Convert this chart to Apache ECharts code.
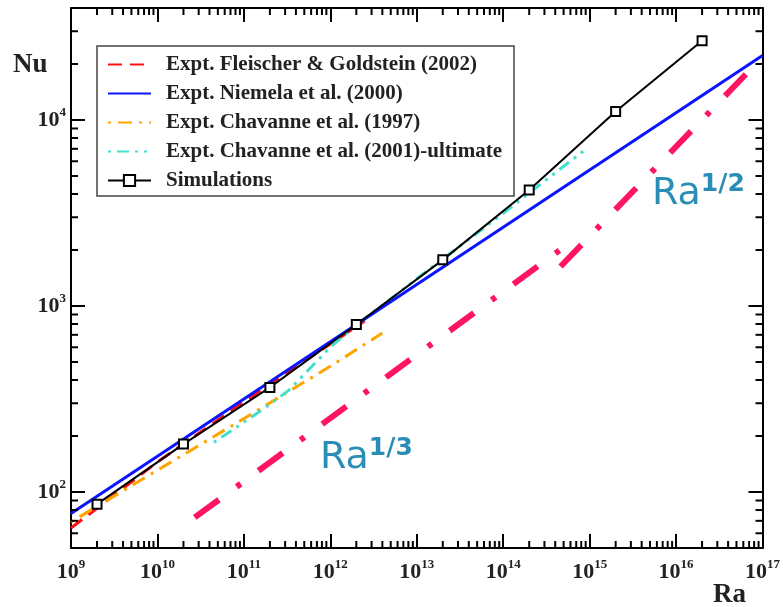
<!DOCTYPE html>
<html>
<head>
<meta charset="utf-8">
<script src="https://cdn.jsdelivr.net/npm/echarts@6/dist/echarts.min.js"></script>
<style>
html, body { margin: 0; padding: 0; background: #fff; }
#chart { width: 783px; height: 607px; }
</style>
</head>
<body>
<div id="chart"></div>
<script>
// values (Ra on x, Nu on y, both log)
const simRa = [2e9, 2e10, 2e11, 2e12, 2e13, 2e14, 2e15, 2e16]
const simNu = [86, 181, 365, 795, 1770, 4200, 11100, 26700]

const niemelaRa = [1e9, 1e17]
const niemelaNu = [76.7, 22200]

const fleischerRa = [1e9, 1e10, 1e11, 1e12, 2.5e12]
const fleischerNu = [64, 145, 305, 625, 830]

const chav97Ra = [1e9, 1e10, 1e11, 1e12, 4e12]
const chav97Nu = [69, 131, 248, 474, 715]

const chav01Ra = [4.5e10, 7e10, 1.8e11, 3.3e11, 1e12, 2e12, 1e13, 1e14, 4e14, 9e14]
const chav01Nu = [185, 212, 286, 352, 600, 790, 1400, 3150, 5200, 6950]

// scaling guide lines
const thirdRa = [2.7e10, 6e14]
const thirdNu = [73, 2200]
const halfRa = [4.2e14, 6.8e16]
const halfNu = [1560, 18100]

// axes
const RA_MIN = 1e9, RA_MAX = 1e17
const NU_MIN = 50, NU_MAX = 40000
const raDecades = [1e9, 1e10, 1e11, 1e12, 1e13, 1e14, 1e15, 1e16]
const minorMult = [2, 3, 4, 5, 6, 7, 8, 9]
const nuMinor = [60, 70, 80, 90, 200, 300, 400, 500, 600, 700, 800, 900,
  2000, 3000, 4000, 5000, 6000, 7000, 8000, 9000, 20000, 30000]

const raMinor = []
raDecades.forEach(d => minorMult.forEach(m => raMinor.push(m * d)))

const zip = (xs, ys) => xs.map((x, i) => [x, ys[i]])

const serif = 'Liberation Serif'
const tickLabel = {
  formatter: v => '{b|10}{e|' + Math.round(Math.log10(v)) + '}',
  rich: {
    b: { fontFamily: serif, fontWeight: 'bold', fontSize: 22, color: '#222', lineHeight: 28 },
    e: { fontFamily: serif, fontWeight: 'bold', fontSize: 13, color: '#222', lineHeight: 13, verticalAlign: 'top' }
  }
}
const axisLine = { lineStyle: { color: '#000', width: 2 } }
const majorTick = { inside: true, length: 14, lineStyle: { color: '#000', width: 2 } }

const chart = echarts.init(document.getElementById('chart'))

const minorX = {
  type: 'custom',
  silent: true,
  z: 5,
  data: raMinor.map(v => [v, NU_MIN]),
  renderItem: (params, api) => {
    const v = api.value(0)
    const b = api.coord([v, NU_MIN])
    const t = api.coord([v, NU_MAX])
    const st = { stroke: '#000', lineWidth: 2 }
    return {
      type: 'group',
      children: [
        { type: 'line', shape: { x1: b[0], y1: b[1], x2: b[0], y2: b[1] - 7 }, style: st },
        { type: 'line', shape: { x1: t[0], y1: t[1], x2: t[0], y2: t[1] + 7 }, style: st }
      ]
    }
  }
}
const minorY = {
  type: 'custom',
  silent: true,
  z: 5,
  data: nuMinor.map(v => [RA_MIN, v]),
  renderItem: (params, api) => {
    const v = api.value(1)
    const l = api.coord([RA_MIN, v])
    const r = api.coord([RA_MAX, v])
    const st = { stroke: '#000', lineWidth: 2 }
    return {
      type: 'group',
      children: [
        { type: 'line', shape: { x1: l[0], y1: l[1], x2: l[0] + 7, y2: l[1] }, style: st },
        { type: 'line', shape: { x1: r[0], y1: r[1], x2: r[0] - 7, y2: r[1] }, style: st }
      ]
    }
  }
}

const annot = {
  a: { fontFamily: 'DejaVu Sans', fontSize: 38, fill: '#2a8db5', lineHeight: 44 },
  b: { fontFamily: 'DejaVu Sans', fontWeight: 'bold', fontSize: 25, fill: '#2a8db5', lineHeight: 28, verticalAlign: 'top' }
}
const noMark = { opacity: 0 }

chart.setOption({
  animation: false,
  grid: { left: 71, right: 17, top: 8, bottom: 59 },
  legend: {
    data: [
      { name: 'Expt. Fleischer & Goldstein (2002)', itemStyle: noMark },
      { name: 'Expt. Niemela et al. (2000)', itemStyle: noMark },
      { name: 'Expt. Chavanne et al. (1997)', itemStyle: noMark },
      { name: 'Expt. Chavanne et al. (2001)-ultimate', itemStyle: noMark },
      { name: 'Simulations' }
    ],
    orient: 'vertical',
    left: 97,
    top: 46,
    padding: [8, 12, 5, 10],
    itemGap: 8,
    itemWidth: 43,
    itemHeight: 14,
    borderColor: '#444',
    borderWidth: 1.5,
    backgroundColor: '#fff',
    textStyle: { fontFamily: serif, fontWeight: 'bold', fontSize: 21, color: '#222', lineHeight: 21, padding: [0, 0, 0, 10] }
  },
  xAxis: [
    {
      type: 'log', logBase: 10, min: RA_MIN, max: RA_MAX, position: 'bottom',
      axisLine, axisTick: majorTick, splitLine: { show: false },
      axisLabel: Object.assign({ margin: 10 }, tickLabel)
    },
    {
      type: 'log', logBase: 10, min: RA_MIN, max: RA_MAX, position: 'top',
      axisLine, axisTick: majorTick, splitLine: { show: false }, axisLabel: { show: false }
    }
  ],
  yAxis: [
    {
      type: 'log', logBase: 10, min: NU_MIN, max: NU_MAX, position: 'left',
      axisLine, axisTick: majorTick, splitLine: { show: false },
      axisLabel: Object.assign({ margin: 5, showMinLabel: false, showMaxLabel: false }, tickLabel)
    },
    {
      type: 'log', logBase: 10, min: NU_MIN, max: NU_MAX, position: 'right',
      axisLine, axisTick: majorTick, splitLine: { show: false }, axisLabel: { show: false }
    }
  ],
  graphic: [
    { type: 'text', left: 13, top: 52, style: { text: 'Nu', font: 'bold 27px "Liberation Serif"', fill: '#222' } },
    { type: 'text', left: 713, top: 582, style: { text: 'Ra', font: 'bold 27px "Liberation Serif"', fill: '#222' } },
    { type: 'text', left: 320, top: 436, style: { text: '{a|Ra}{b|1/3}', rich: annot } },
    { type: 'text', left: 652, top: 172, style: { text: '{a|Ra}{b|1/2}', rich: annot } }
  ],
  series: [
    {
      name: 'Ra^1/3', type: 'line', data: zip(thirdRa, thirdNu), symbol: 'none', silent: true,
      lineStyle: { color: '#ff1464', width: 6, type: [30, 22, 5, 22], cap: 'butt' }
    },
    {
      name: 'Ra^1/2', type: 'line', data: zip(halfRa, halfNu), symbol: 'none', silent: true,
      lineStyle: { color: '#ff1464', width: 6, type: [30, 22, 5, 22], dashOffset: -5, cap: 'butt' }
    },
    {
      name: 'Expt. Fleischer & Goldstein (2002)', type: 'line', data: zip(fleischerRa, fleischerNu),
      symbol: 'none', itemStyle: { color: '#ff1010' },
      lineStyle: { color: '#ff1010', width: 3, type: [14, 8] }
    },
    {
      name: 'Expt. Chavanne et al. (1997)', type: 'line', data: zip(chav97Ra, chav97Nu),
      symbol: 'none', itemStyle: { color: '#ffa500' },
      lineStyle: { color: '#ffa500', width: 3, type: [3, 7, 14, 7] }
    },
    {
      name: 'Expt. Chavanne et al. (2001)-ultimate', type: 'line', data: zip(chav01Ra, chav01Nu),
      symbol: 'none', itemStyle: { color: '#40e0d0' },
      lineStyle: { color: '#40e0d0', width: 3, type: [3, 6, 12, 6, 3, 6] }
    },
    {
      name: 'Expt. Niemela et al. (2000)', type: 'line', data: zip(niemelaRa, niemelaNu),
      symbol: 'none', itemStyle: { color: '#0a14ff' },
      lineStyle: { color: '#0a14ff', width: 3 }
    },
    {
      name: 'Simulations', type: 'line', data: zip(simRa, simNu),
      symbol: 'rect', symbolSize: 9,
      itemStyle: { color: '#fff', borderColor: '#000', borderWidth: 2 },
      lineStyle: { color: '#000', width: 2 }
    },
    minorX,
    minorY
  ]
})
</script>
</body>
</html>
